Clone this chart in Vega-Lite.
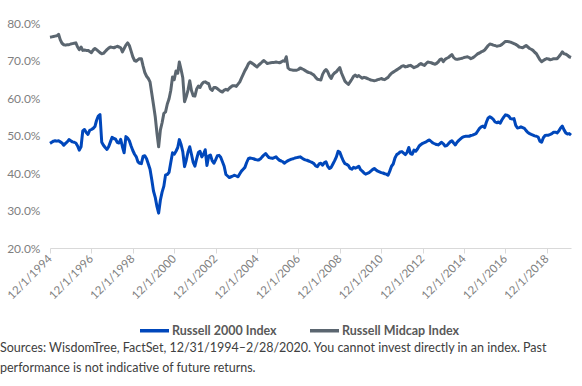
{
  "$schema": "https://vega.github.io/schema/vega-lite/v6.json",
  "autosize": {"type": "none"},
  "padding": {"left": 50, "top": 23, "right": 11, "bottom": 138},
  "width": 521,
  "height": 225,
  "background": "white",
  "config": {"view": {"stroke": null}},
  "title": {
    "text": ["Sources: WisdomTree, FactSet, 12/31/1994–2/28/2020. You cannot invest directly in an index. Past", "performance is not indicative of future returns."],
    "orient": "bottom",
    "anchor": "start",
    "frame": "group",
    "dx": -50,
    "offset": 4,
    "font": "Lato",
    "fontSize": 12.5,
    "fontWeight": "normal",
    "color": "#404040",
    "lineHeight": 20,
    "baseline": "top"
  },
  "data": {"values": [
{"d":"1994-12","r":47.9,"m":76.2},
{"d":"1995-01","r":48.2,"m":76.3},{"d":"1995-02","r":48.5,"m":76.4},{"d":"1995-03","r":48.6,"m":76.5},{"d":"1995-04","r":48.5,"m":76.6},{"d":"1995-05","r":48.6,"m":77.0},{"d":"1995-06","r":48.3,"m":75.5},{"d":"1995-07","r":48.0,"m":74.6},{"d":"1995-08","r":47.4,"m":74.2},{"d":"1995-09","r":47.9,"m":74.1},{"d":"1995-10","r":48.3,"m":74.2},{"d":"1995-11","r":48.9,"m":74.2},{"d":"1995-12","r":48.6,"m":74.4},
{"d":"1996-01","r":48.3,"m":74.5},{"d":"1996-02","r":48.2,"m":74.6},{"d":"1996-03","r":48.0,"m":74.7},{"d":"1996-04","r":47.2,"m":73.6},{"d":"1996-05","r":46.1,"m":72.9},{"d":"1996-06","r":47.0,"m":73.6},{"d":"1996-07","r":51.2,"m":72.7},{"d":"1996-08","r":51.6,"m":72.8},{"d":"1996-09","r":50.8,"m":72.7},{"d":"1996-10","r":50.3,"m":72.7},{"d":"1996-11","r":51.4,"m":72.4},{"d":"1996-12","r":51.6,"m":72.1},
{"d":"1997-01","r":51.9,"m":72.8},{"d":"1997-02","r":52.4,"m":73.2},{"d":"1997-03","r":54.0,"m":72.9},{"d":"1997-04","r":55.2,"m":72.5},{"d":"1997-05","r":55.6,"m":72.1},{"d":"1997-06","r":48.2,"m":71.8},{"d":"1997-07","r":47.4,"m":71.9},{"d":"1997-08","r":46.8,"m":72.4},{"d":"1997-09","r":46.3,"m":72.9},{"d":"1997-10","r":47.0,"m":73.3},{"d":"1997-11","r":48.3,"m":73.6},{"d":"1997-12","r":49.5,"m":73.5},
{"d":"1998-01","r":49.2,"m":73.4},{"d":"1998-02","r":49.0,"m":73.6},{"d":"1998-03","r":48.2,"m":73.8},{"d":"1998-04","r":48.0,"m":73.6},{"d":"1998-05","r":49.0,"m":73.4},{"d":"1998-06","r":47.0,"m":72.3},{"d":"1998-07","r":45.4,"m":73.2},{"d":"1998-08","r":49.7,"m":74.1},{"d":"1998-09","r":49.3,"m":74.7},{"d":"1998-10","r":48.6,"m":74.0},{"d":"1998-11","r":47.2,"m":72.5},{"d":"1998-12","r":46.0,"m":71.0},
{"d":"1999-01","r":45.0,"m":70.0},{"d":"1999-02","r":44.3,"m":69.8},{"d":"1999-03","r":43.0,"m":70.2},{"d":"1999-04","r":42.6,"m":70.5},{"d":"1999-05","r":42.5,"m":70.5},{"d":"1999-06","r":44.5,"m":68.5},{"d":"1999-07","r":44.6,"m":66.8},{"d":"1999-08","r":43.8,"m":65.8},{"d":"1999-09","r":42.4,"m":65.2},{"d":"1999-10","r":41.0,"m":64.3},{"d":"1999-11","r":38.2,"m":61.2},{"d":"1999-12","r":35.2,"m":58.2},
{"d":"2000-01","r":33.5,"m":55.0},{"d":"2000-02","r":31.0,"m":50.5},{"d":"2000-03","r":29.3,"m":47.0},{"d":"2000-04","r":32.8,"m":51.5},{"d":"2000-05","r":34.9,"m":53.4},{"d":"2000-06","r":36.5,"m":55.9},{"d":"2000-07","r":39.5,"m":56.3},{"d":"2000-08","r":39.6,"m":58.4},{"d":"2000-09","r":40.2,"m":59.8},{"d":"2000-10","r":42.8,"m":62.0},{"d":"2000-11","r":45.4,"m":65.6},{"d":"2000-12","r":45.0,"m":64.9},
{"d":"2001-01","r":45.8,"m":67.2},{"d":"2001-02","r":46.8,"m":66.6},{"d":"2001-03","r":48.9,"m":69.6},{"d":"2001-04","r":47.6,"m":67.6},{"d":"2001-05","r":45.7,"m":65.4},{"d":"2001-06","r":41.7,"m":59.0},{"d":"2001-07","r":43.4,"m":60.3},{"d":"2001-08","r":45.6,"m":62.1},{"d":"2001-09","r":47.0,"m":64.6},{"d":"2001-10","r":45.0,"m":62.0},{"d":"2001-11","r":42.8,"m":60.6},{"d":"2001-12","r":41.8,"m":60.5},
{"d":"2002-01","r":43.8,"m":62.4},{"d":"2002-02","r":45.5,"m":63.2},{"d":"2002-03","r":45.8,"m":62.8},{"d":"2002-04","r":44.3,"m":63.7},{"d":"2002-05","r":45.0,"m":64.2},{"d":"2002-06","r":46.2,"m":64.3},{"d":"2002-07","r":42.0,"m":64.0},{"d":"2002-08","r":44.5,"m":63.8},{"d":"2002-09","r":44.8,"m":62.4},{"d":"2002-10","r":43.3,"m":62.0},{"d":"2002-11","r":42.6,"m":62.8},{"d":"2002-12","r":43.5,"m":62.8},
{"d":"2003-01","r":44.6,"m":62.5},{"d":"2003-02","r":44.7,"m":62.1},{"d":"2003-03","r":44.2,"m":61.8},{"d":"2003-04","r":43.0,"m":61.6},{"d":"2003-05","r":41.8,"m":62.1},{"d":"2003-06","r":39.6,"m":62.3},{"d":"2003-07","r":39.2,"m":62.1},{"d":"2003-08","r":38.8,"m":62.6},{"d":"2003-09","r":39.0,"m":63.0},{"d":"2003-10","r":39.2,"m":63.3},{"d":"2003-11","r":39.4,"m":63.3},{"d":"2003-12","r":39.2,"m":63.1},
{"d":"2004-01","r":39.0,"m":63.7},{"d":"2004-02","r":39.8,"m":64.3},{"d":"2004-03","r":40.5,"m":65.3},{"d":"2004-04","r":41.0,"m":66.3},{"d":"2004-05","r":41.5,"m":67.3},{"d":"2004-06","r":42.8,"m":68.1},{"d":"2004-07","r":43.8,"m":69.1},{"d":"2004-08","r":44.0,"m":69.6},{"d":"2004-09","r":43.9,"m":69.3},{"d":"2004-10","r":43.8,"m":69.0},{"d":"2004-11","r":43.6,"m":68.6},{"d":"2004-12","r":43.5,"m":68.3},
{"d":"2005-01","r":43.5,"m":68.8},{"d":"2005-02","r":43.8,"m":69.2},{"d":"2005-03","r":44.3,"m":69.6},{"d":"2005-04","r":44.8,"m":70.0},{"d":"2005-05","r":45.2,"m":69.6},{"d":"2005-06","r":44.6,"m":69.2},{"d":"2005-07","r":44.1,"m":69.3},{"d":"2005-08","r":44.0,"m":69.4},{"d":"2005-09","r":43.9,"m":69.5},{"d":"2005-10","r":44.1,"m":69.5},{"d":"2005-11","r":44.3,"m":69.6},{"d":"2005-12","r":43.8,"m":69.5},
{"d":"2006-01","r":43.4,"m":69.4},{"d":"2006-02","r":43.2,"m":69.6},{"d":"2006-03","r":43.0,"m":69.9},{"d":"2006-04","r":42.6,"m":69.8},{"d":"2006-05","r":43.0,"m":71.0},{"d":"2006-06","r":43.3,"m":68.0},{"d":"2006-07","r":43.5,"m":67.6},{"d":"2006-08","r":43.7,"m":67.5},{"d":"2006-09","r":43.8,"m":67.4},{"d":"2006-10","r":44.0,"m":67.4},{"d":"2006-11","r":44.1,"m":67.4},{"d":"2006-12","r":44.2,"m":67.6},
{"d":"2007-01","r":44.3,"m":68.0},{"d":"2007-02","r":44.0,"m":67.8},{"d":"2007-03","r":43.7,"m":67.6},{"d":"2007-04","r":43.5,"m":67.3},{"d":"2007-05","r":43.4,"m":67.0},{"d":"2007-06","r":43.2,"m":66.8},{"d":"2007-07","r":43.0,"m":66.7},{"d":"2007-08","r":42.8,"m":66.4},{"d":"2007-09","r":42.5,"m":66.1},{"d":"2007-10","r":41.9,"m":65.5},{"d":"2007-11","r":41.7,"m":65.0},{"d":"2007-12","r":42.4,"m":64.9},
{"d":"2008-01","r":42.6,"m":64.8},{"d":"2008-02","r":42.1,"m":66.3},{"d":"2008-03","r":42.7,"m":67.1},{"d":"2008-04","r":43.0,"m":67.6},{"d":"2008-05","r":41.8,"m":67.0},{"d":"2008-06","r":41.2,"m":65.9},{"d":"2008-07","r":41.5,"m":65.2},{"d":"2008-08","r":42.4,"m":66.2},{"d":"2008-09","r":43.3,"m":66.7},{"d":"2008-10","r":44.3,"m":67.0},{"d":"2008-11","r":45.8,"m":67.6},{"d":"2008-12","r":45.5,"m":68.1},
{"d":"2009-01","r":44.3,"m":66.6},{"d":"2009-02","r":43.2,"m":65.5},{"d":"2009-03","r":42.5,"m":64.5},{"d":"2009-04","r":42.3,"m":64.0},{"d":"2009-05","r":42.0,"m":63.6},{"d":"2009-06","r":41.2,"m":64.3},{"d":"2009-07","r":41.0,"m":65.0},{"d":"2009-08","r":41.5,"m":65.8},{"d":"2009-09","r":41.3,"m":66.1},{"d":"2009-10","r":41.5,"m":65.7},{"d":"2009-11","r":41.8,"m":66.0},{"d":"2009-12","r":40.9,"m":65.6},
{"d":"2010-01","r":40.5,"m":65.3},{"d":"2010-02","r":40.0,"m":65.5},{"d":"2010-03","r":39.7,"m":65.4},{"d":"2010-04","r":39.9,"m":65.2},{"d":"2010-05","r":40.1,"m":65.0},{"d":"2010-06","r":40.5,"m":64.8},{"d":"2010-07","r":40.9,"m":64.7},{"d":"2010-08","r":41.2,"m":64.6},{"d":"2010-09","r":40.8,"m":64.7},{"d":"2010-10","r":40.5,"m":64.9},{"d":"2010-11","r":40.3,"m":65.0},{"d":"2010-12","r":40.1,"m":65.2},
{"d":"2011-01","r":40.0,"m":65.0},{"d":"2011-02","r":39.8,"m":64.9},{"d":"2011-03","r":39.7,"m":65.2},{"d":"2011-04","r":39.4,"m":65.5},{"d":"2011-05","r":40.5,"m":66.1},{"d":"2011-06","r":41.8,"m":66.6},{"d":"2011-07","r":42.4,"m":66.9},{"d":"2011-08","r":44.0,"m":67.2},{"d":"2011-09","r":44.9,"m":67.5},{"d":"2011-10","r":45.2,"m":67.8},{"d":"2011-11","r":45.6,"m":68.1},{"d":"2011-12","r":45.7,"m":68.5},
{"d":"2012-01","r":45.3,"m":68.6},{"d":"2012-02","r":44.9,"m":68.3},{"d":"2012-03","r":45.5,"m":68.4},{"d":"2012-04","r":46.8,"m":68.6},{"d":"2012-05","r":45.2,"m":68.7},{"d":"2012-06","r":45.0,"m":68.4},{"d":"2012-07","r":46.1,"m":68.1},{"d":"2012-08","r":45.8,"m":68.3},{"d":"2012-09","r":46.4,"m":68.5},{"d":"2012-10","r":47.2,"m":68.9},{"d":"2012-11","r":47.6,"m":69.2},{"d":"2012-12","r":47.9,"m":68.9},
{"d":"2013-01","r":48.1,"m":68.7},{"d":"2013-02","r":48.3,"m":69.2},{"d":"2013-03","r":48.6,"m":69.6},{"d":"2013-04","r":48.8,"m":69.5},{"d":"2013-05","r":48.4,"m":69.4},{"d":"2013-06","r":48.0,"m":69.2},{"d":"2013-07","r":47.8,"m":69.0},{"d":"2013-08","r":47.6,"m":69.2},{"d":"2013-09","r":47.5,"m":69.6},{"d":"2013-10","r":47.8,"m":70.2},{"d":"2013-11","r":48.2,"m":70.4},{"d":"2013-12","r":47.8,"m":69.7},
{"d":"2014-01","r":47.2,"m":70.3},{"d":"2014-02","r":47.3,"m":70.6},{"d":"2014-03","r":47.8,"m":70.8},{"d":"2014-04","r":48.3,"m":71.2},{"d":"2014-05","r":48.6,"m":71.6},{"d":"2014-06","r":48.0,"m":70.8},{"d":"2014-07","r":47.5,"m":70.4},{"d":"2014-08","r":48.2,"m":70.3},{"d":"2014-09","r":48.7,"m":70.4},{"d":"2014-10","r":49.1,"m":70.5},{"d":"2014-11","r":49.5,"m":70.6},{"d":"2014-12","r":49.7,"m":70.8},
{"d":"2015-01","r":49.8,"m":70.9},{"d":"2015-02","r":49.8,"m":71.0},{"d":"2015-03","r":49.8,"m":70.8},{"d":"2015-04","r":50.0,"m":70.5},{"d":"2015-05","r":50.1,"m":70.7},{"d":"2015-06","r":50.3,"m":71.0},{"d":"2015-07","r":50.5,"m":71.4},{"d":"2015-08","r":51.2,"m":71.8},{"d":"2015-09","r":51.9,"m":72.0},{"d":"2015-10","r":52.3,"m":72.3},{"d":"2015-11","r":52.5,"m":72.5},{"d":"2015-12","r":52.1,"m":72.8},
{"d":"2016-01","r":53.6,"m":73.4},{"d":"2016-02","r":54.7,"m":74.0},{"d":"2016-03","r":55.0,"m":74.4},{"d":"2016-04","r":54.7,"m":74.3},{"d":"2016-05","r":54.3,"m":74.1},{"d":"2016-06","r":53.6,"m":74.0},{"d":"2016-07","r":53.4,"m":73.8},{"d":"2016-08","r":53.6,"m":73.9},{"d":"2016-09","r":53.3,"m":74.0},{"d":"2016-10","r":54.2,"m":74.3},{"d":"2016-11","r":54.9,"m":74.7},{"d":"2016-12","r":55.5,"m":75.1},
{"d":"2017-01","r":55.4,"m":75.1},{"d":"2017-02","r":55.1,"m":75.0},{"d":"2017-03","r":54.5,"m":74.9},{"d":"2017-04","r":54.4,"m":74.7},{"d":"2017-05","r":54.5,"m":74.5},{"d":"2017-06","r":52.7,"m":74.3},{"d":"2017-07","r":52.0,"m":74.0},{"d":"2017-08","r":52.1,"m":73.6},{"d":"2017-09","r":52.3,"m":73.5},{"d":"2017-10","r":52.1,"m":73.4},{"d":"2017-11","r":51.9,"m":73.7},{"d":"2017-12","r":51.3,"m":74.0},
{"d":"2018-01","r":50.8,"m":73.6},{"d":"2018-02","r":50.5,"m":73.2},{"d":"2018-03","r":50.3,"m":73.0},{"d":"2018-04","r":50.1,"m":72.7},{"d":"2018-05","r":49.9,"m":72.2},{"d":"2018-06","r":49.8,"m":71.8},{"d":"2018-07","r":49.6,"m":71.0},{"d":"2018-08","r":48.5,"m":70.2},{"d":"2018-09","r":48.2,"m":69.7},{"d":"2018-10","r":49.4,"m":70.0},{"d":"2018-11","r":50.0,"m":70.3},{"d":"2018-12","r":50.1,"m":70.5},
{"d":"2019-01","r":50.1,"m":70.4},{"d":"2019-02","r":50.3,"m":70.2},{"d":"2019-03","r":50.5,"m":70.3},{"d":"2019-04","r":50.9,"m":70.5},{"d":"2019-05","r":50.9,"m":70.5},{"d":"2019-06","r":50.7,"m":70.5},{"d":"2019-07","r":51.2,"m":71.0},{"d":"2019-08","r":52.0,"m":71.6},{"d":"2019-09","r":52.5,"m":72.3},{"d":"2019-10","r":51.5,"m":71.8},{"d":"2019-11","r":50.7,"m":71.7},{"d":"2019-12","r":50.4,"m":71.4},
{"d":"2020-01","r":50.5,"m":71.0},{"d":"2020-02","r":50.1,"m":70.8}
  ]},
  "transform": [{"fold": ["r", "m"], "as": ["k", "v"]}],
  "mark": {"type": "line", "strokeWidth": 3, "interpolate": "linear", "strokeJoin": "round"},
  "encoding": {
    "x": {
      "field": "d", "type": "temporal",
      "scale": {"type": "utc", "domain": [{"year": 1994, "month": 12, "date": 1, "utc": true}, {"year": 2020, "month": 2, "date": 1, "utc": true}], "nice": false},
      "axis": {
        "title": null, "grid": false,
        "values": [
          {"year": 1994, "month": 12, "date": 1, "utc": true},
          {"year": 1996, "month": 12, "date": 1, "utc": true},
          {"year": 1998, "month": 12, "date": 1, "utc": true},
          {"year": 2000, "month": 12, "date": 1, "utc": true},
          {"year": 2002, "month": 12, "date": 1, "utc": true},
          {"year": 2004, "month": 12, "date": 1, "utc": true},
          {"year": 2006, "month": 12, "date": 1, "utc": true},
          {"year": 2008, "month": 12, "date": 1, "utc": true},
          {"year": 2010, "month": 12, "date": 1, "utc": true},
          {"year": 2012, "month": 12, "date": 1, "utc": true},
          {"year": 2014, "month": 12, "date": 1, "utc": true},
          {"year": 2016, "month": 12, "date": 1, "utc": true},
          {"year": 2018, "month": 12, "date": 1, "utc": true}
        ],
        "labelExpr": "utcFormat(datum.value, '%-m/%-d/%Y')",
        "labelAngle": -45, "labelAlign": "right", "labelBaseline": "middle",
        "labelPadding": 4, "tickSize": 5, "tickColor": "#d9d9d9", "domainColor": "#d9d9d9",
        "labelColor": "#7f7f7f", "labelFont": "Lato", "labelFontSize": 11.5, "labelOverlap": false, "labelFlush": false
      }
    },
    "y": {
      "field": "v", "type": "quantitative",
      "scale": {"domain": [20, 80], "nice": false, "zero": false},
      "axis": {
        "title": null, "grid": false, "domain": false, "ticks": false,
        "values": [20, 30, 40, 50, 60, 70, 80],
        "labelExpr": "format(datum.value / 100, '.1%')",
        "labelPadding": 10, "labelColor": "#7f7f7f", "labelFont": "Lato", "labelFontSize": 12
      }
    },
    "color": {
      "field": "k", "type": "nominal",
      "scale": {"domain": ["r", "m"], "range": ["#0047BB", "#5B6670"]},
      "legend": {
        "title": null, "orient": "none", "legendX": 88, "legendY": 291, "direction": "horizontal",
        "labelExpr": "datum.label == 'r' ? 'Russell 2000 Index' : 'Russell Midcap Index'",
        "symbolType": "stroke", "symbolSize": 841, "symbolStrokeWidth": 3.5,
        "labelFont": "Lato", "labelFontSize": 12.5, "labelFontWeight": "bold", "labelColor": "#595959",
        "labelOffset": 1, "columnPadding": 26, "padding": 0
      }
    }
  }
}
